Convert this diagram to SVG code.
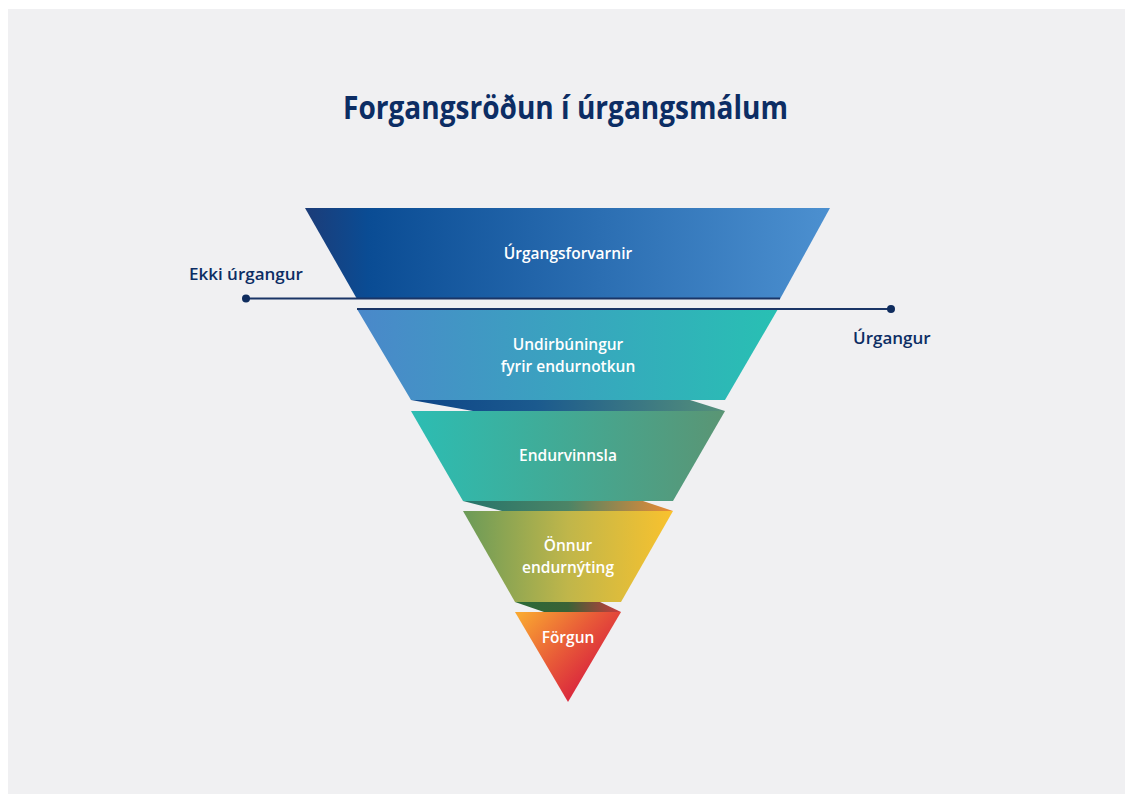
<svg xmlns="http://www.w3.org/2000/svg" width="1125" height="794" viewBox="0 0 1125 794">
  <style>
    .title { font-family: "Open Sans", "Liberation Sans", sans-serif; font-weight: 700; font-size: 32px; fill: #0c2d64; }
    .side { font-family: "Open Sans", "Liberation Sans", sans-serif; font-weight: 600; font-size: 17px; fill: #0c2d64; }
    .lbl { font-family: "Open Sans", "Liberation Sans", sans-serif; font-weight: 600; font-size: 15.5px; fill: #ffffff; text-anchor: middle; }
    .conn { stroke: #1a3566; stroke-width: 2; fill: none; }
    .dot { fill: #0f2c5e; }
  </style>
  <defs>
    <linearGradient id="g1" x1="305" y1="0" x2="830" y2="0" gradientUnits="userSpaceOnUse">
      <stop offset="0" stop-color="#1c3c78"/>
      <stop offset="0.12" stop-color="#0a4c94"/>
      <stop offset="1" stop-color="#4c90d0"/>
    </linearGradient>
    <linearGradient id="g2" x1="357" y1="0" x2="778" y2="0" gradientUnits="userSpaceOnUse">
      <stop offset="0" stop-color="#4a88ca"/>
      <stop offset="1" stop-color="#28c0b3"/>
    </linearGradient>
    <linearGradient id="f1" x1="411" y1="0" x2="725" y2="0" gradientUnits="userSpaceOnUse">
      <stop offset="0" stop-color="#0e4588"/>
      <stop offset="0.4" stop-color="#1b5a8e"/>
      <stop offset="1" stop-color="#55907a"/>
    </linearGradient>
    <linearGradient id="g3" x1="411" y1="0" x2="725" y2="0" gradientUnits="userSpaceOnUse">
      <stop offset="0" stop-color="#2cbdb3"/>
      <stop offset="1" stop-color="#5a9574"/>
    </linearGradient>
    <linearGradient id="f2" x1="463" y1="0" x2="673" y2="0" gradientUnits="userSpaceOnUse">
      <stop offset="0" stop-color="#26746a"/>
      <stop offset="0.5" stop-color="#4c8466"/>
      <stop offset="1" stop-color="#ec8a33"/>
    </linearGradient>
    <linearGradient id="g4" x1="463" y1="0" x2="673" y2="0" gradientUnits="userSpaceOnUse">
      <stop offset="0" stop-color="#6a9a58"/>
      <stop offset="0.5" stop-color="#c0b64a"/>
      <stop offset="1" stop-color="#f9c22e"/>
    </linearGradient>
    <linearGradient id="f3" x1="515" y1="0" x2="621" y2="0" gradientUnits="userSpaceOnUse">
      <stop offset="0" stop-color="#2a6a38"/>
      <stop offset="0.5" stop-color="#3a6236"/>
      <stop offset="1" stop-color="#cc3a3e"/>
    </linearGradient>
    <linearGradient id="g5" x1="520" y1="615" x2="600" y2="690" gradientUnits="userSpaceOnUse">
      <stop offset="0" stop-color="#f9a631"/>
      <stop offset="0.5" stop-color="#e85a38"/>
      <stop offset="1" stop-color="#d5163f"/>
    </linearGradient>
  </defs>

  <rect x="8" y="9" width="1117" height="785" fill="#f0f0f2"/>

  <g id="title">
    <text class="title" x="343" y="119" textLength="445" lengthAdjust="spacingAndGlyphs">Forgangsröðun í úrgangsmálum</text>
  </g>

  <g id="folds">
    <polygon points="411,400 690,400 725,411 473,411" fill="url(#f1)"/>
    <polygon points="463,501 643,501 673,511 502,511" fill="url(#f2)"/>
    <polygon points="515,602 600,602 621,612 544,612" fill="url(#f3)"/>
  </g>

  <g id="node-urgangsforvarnir">
    <polygon points="305,208 830,208 780,299 357,299" fill="url(#g1)"/>
    <text class="lbl" x="568" y="259">Úrgangsforvarnir</text>
  </g>

  <g id="node-undirbuningur">
    <polygon points="357,309 778,309 725,400 411,400" fill="url(#g2)"/>
    <text class="lbl" x="568" y="350">Undirbúningur</text>
    <text class="lbl" x="568" y="372">fyrir endurnotkun</text>
  </g>

  <g id="node-endurvinnsla">
    <polygon points="411,411 725,411 673,501 463,501" fill="url(#g3)"/>
    <text class="lbl" x="568" y="461">Endurvinnsla</text>
  </g>

  <g id="node-onnur">
    <polygon points="463,511 673,511 621,602 515,602" fill="url(#g4)"/>
    <text class="lbl" x="568" y="551">Önnur</text>
    <text class="lbl" x="568" y="573">endurnýting</text>
  </g>

  <g id="node-forgun">
    <polygon points="515,612 621,612 568,702" fill="url(#g5)"/>
    <text class="lbl" x="568" y="643">Förgun</text>
  </g>

  <g id="connectors">
    <line class="conn" x1="246" y1="298.5" x2="780" y2="298.5"/>
    <circle class="dot" cx="246" cy="298.5" r="4"/>
    <line class="conn" x1="357" y1="309" x2="891" y2="309"/>
    <circle class="dot" cx="891" cy="309" r="4"/>
  </g>

  <g id="label-ekki">
    <text class="side" x="189" y="280">Ekki úrgangur</text>
  </g>
  <g id="label-urgangur">
    <text class="side" x="853" y="344">Úrgangur</text>
  </g>
</svg>
